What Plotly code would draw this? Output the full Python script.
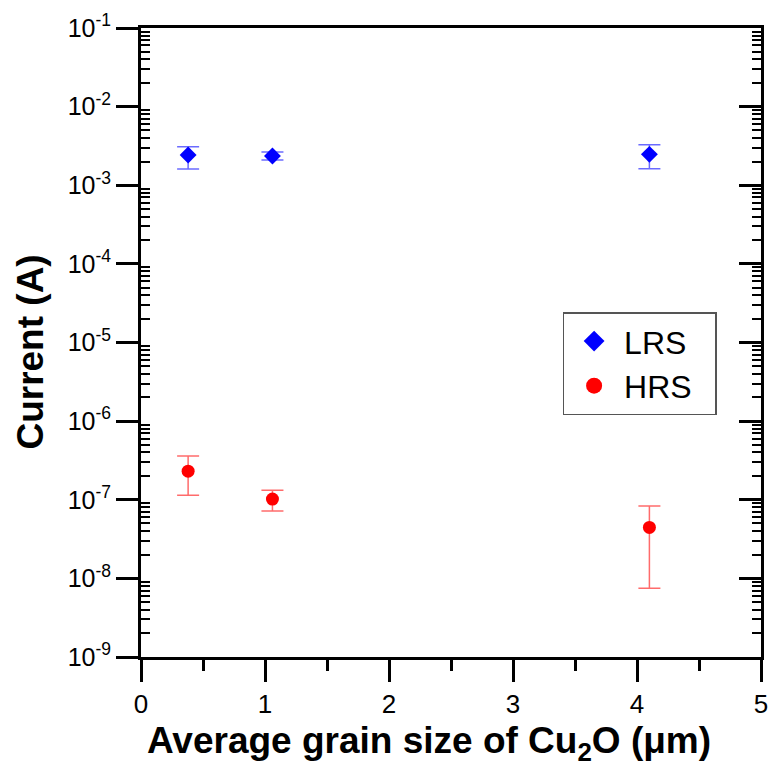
import plotly.graph_objects as go

# Data
grain_size = [0.38, 1.06, 4.10]
lrs_current = [2.42e-3, 2.36e-3, 2.47e-3]
lrs_err_hi = [3.09e-3, 2.64e-3, 3.27e-3]
lrs_err_lo = [1.61e-3, 2.09e-3, 1.62e-3]
hrs_current = [2.31e-7, 1.02e-7, 4.45e-8]
hrs_err_hi = [3.59e-7, 1.32e-7, 8.3e-8]
hrs_err_lo = [1.14e-7, 7.2e-8, 7.5e-9]

y_exponents = [-1, -2, -3, -4, -5, -6, -7, -8, -9]
y_ticktext = [f"10<sup>{e}</sup>" for e in y_exponents]
x_tickvals = [0, 1, 2, 3, 4, 5]

x_title = "<b>Average grain size of Cu<sub>2</sub>O (μm)</b>"
y_title = "<b>Current (A)</b>"

FONT = "Liberation Sans, Arial, sans-serif"
BLUE = "#0000ff"
RED = "#ff0000"

def plus(vals, hi):
    return [h - v for v, h in zip(vals, hi)]

def minus(vals, lo):
    return [v - l for v, l in zip(vals, lo)]

fig = go.Figure()
fig.add_trace(go.Scatter(
    x=grain_size, y=lrs_current, mode="markers", name="LRS", showlegend=False,
    marker=dict(symbol="diamond", size=13, color=BLUE),
    error_y=dict(type="data", symmetric=False,
                 array=plus(lrs_current, lrs_err_hi),
                 arrayminus=minus(lrs_current, lrs_err_lo),
                 color="rgba(70,70,255,0.8)", thickness=1.5, width=11),
))
fig.add_trace(go.Scatter(
    x=grain_size, y=hrs_current, mode="markers", name="HRS", showlegend=False,
    marker=dict(symbol="circle", size=13, color=RED),
    error_y=dict(type="data", symmetric=False,
                 array=plus(hrs_current, hrs_err_hi),
                 arrayminus=minus(hrs_current, hrs_err_lo),
                 color="rgba(255,70,70,0.8)", thickness=1.5, width=11),
))
# legend-only entries with larger symbols
fig.add_trace(go.Scatter(x=[None], y=[None], mode="markers", name="LRS&nbsp;&nbsp;",
                         marker=dict(symbol="diamond", size=18, color=BLUE)))
fig.add_trace(go.Scatter(x=[None], y=[None], mode="markers", name="HRS&nbsp;&nbsp;",
                         marker=dict(symbol="circle", size=18, color=RED)))
# invisible trace to carry mirrored right-hand axis
fig.add_trace(go.Scatter(x=[None], y=[None], yaxis="y2", showlegend=False, hoverinfo="skip"))

minor_vals = []
for e in range(-9, -1):
    for m in range(2, 10):
        minor_vals.append(m * 10 ** e)

yaxis_common = dict(
    type="log", range=[-9, -1],
    linecolor="black", linewidth=3,
    tickcolor="black", tickwidth=2.5,
    showgrid=False, zeroline=False, automargin=False,
)

fig.update_layout(
    width=768, height=770,
    margin=dict(l=141, r=7, t=28, b=113),
    plot_bgcolor="white", paper_bgcolor="white",
    font=dict(family=FONT, color="black"),
    showlegend=True,
    legend=dict(
        x=0.68, y=0.548, xanchor="left", yanchor="top",
        bordercolor="#555555", borderwidth=1.5, bgcolor="white",
        font=dict(size=32, family=FONT, color="black"),
        itemwidth=50,
    ),
    xaxis=dict(
        range=[0, 5], tickvals=x_tickvals, ticks="outside", ticklen=22,
        tickwidth=2.5, tickcolor="black", ticklabeloverflow="allow",
        minor=dict(dtick=0.5, ticks="outside", ticklen=11, tickwidth=2.5, tickcolor="black"),
        linecolor="black", linewidth=3, mirror=True,
        showgrid=False, zeroline=False, automargin=False,
        tickfont=dict(size=26, family=FONT),
    ),
    yaxis=dict(
        **yaxis_common,
        tickmode="array", tickvals=[10 ** e for e in y_exponents], ticktext=y_ticktext,
        ticks="outside", ticklen=22, mirror=True,
        minor=dict(tickmode="array", tickvals=minor_vals, ticks="inside", ticklen=9,
                   tickwidth=2, tickcolor="black"),
        tickfont=dict(size=25, family=FONT),
    ),
    yaxis2=dict(
        **yaxis_common,
        overlaying="y", side="right", showticklabels=False,
        tickmode="array", tickvals=[10 ** e for e in y_exponents],
        ticks="inside", ticklen=22,
        minor=dict(tickmode="array", tickvals=minor_vals, ticks="inside", ticklen=9,
                   tickwidth=2, tickcolor="black"),
    ),
    annotations=[
        dict(text=x_title, xref="paper", yref="paper", x=0.4645, y=-0.137,
             xanchor="center", yanchor="middle", showarrow=False,
             font=dict(size=37, family=FONT, color="black")),
        dict(text=y_title, xref="paper", yref="paper", x=-0.178, y=0.485,
             xanchor="center", yanchor="middle", showarrow=False, textangle=-90,
             font=dict(size=37, family=FONT, color="black")),
    ],
)

fig.write_html("out.html")
